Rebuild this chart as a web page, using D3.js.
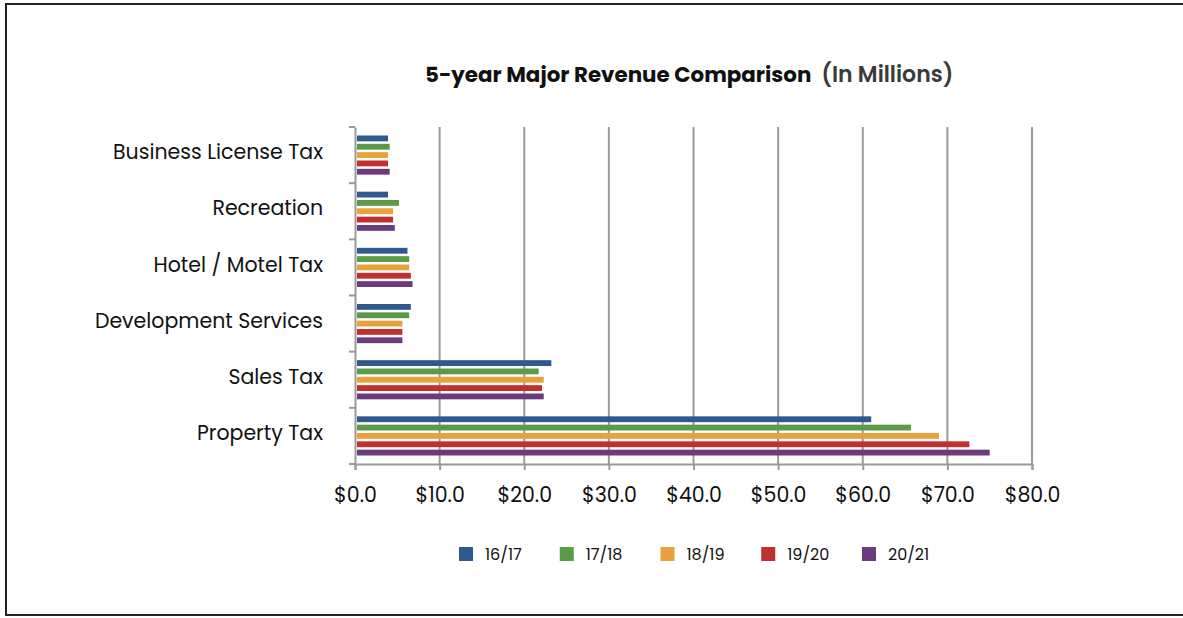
<!DOCTYPE html>
<html>
<head>
<meta charset="utf-8">
<script src="https://cdn.jsdelivr.net/npm/d3@7"></script>
<style>
  html, body { margin: 0; padding: 0; background: #fff; }
  svg { display: block; font-family: Poppins, Inter, 'Open Sans', sans-serif; }
</style>
</head>
<body>
<div id="chart"></div>
<script>
const WIDTH = 1183;
const HEIGHT = 618;
const MARGIN = { top: 127, right: 151, bottom: 154, left: 355 };

// categories, top to bottom
const categories = [
  'Business License Tax',
  'Recreation',
  'Hotel / Motel Tax',
  'Development Services',
  'Sales Tax',
  'Property Tax'
];
const years = ['16/17', '17/18', '18/19', '19/20', '20/21'];
const colors = ['#2e5a8e', '#5b9a48', '#e9a23b', '#c0302f', '#6c3b7b'];

// values in millions, one array per year (same order as categories)
const v1617 = [3.9, 3.9, 6.2, 6.6, 23.2, 61.0];
const v1718 = [4.1, 5.2, 6.4, 6.4, 21.7, 65.7];
const v1819 = [3.9, 4.5, 6.4, 5.6, 22.3, 69.0];
const v1920 = [3.9, 4.5, 6.6, 5.6, 22.1, 72.6];
const v2021 = [4.1, 4.7, 6.8, 5.6, 22.3, 75.0];
const series = [v1617, v1718, v1819, v1920, v2021];

const xTicks = [0, 10, 20, 30, 40, 50, 60, 70, 80];

const innerW = WIDTH - MARGIN.left - MARGIN.right;
const innerH = HEIGHT - MARGIN.top - MARGIN.bottom;

const svg = d3
  .select('#chart')
  .append('svg')
  .attr('width', WIDTH)
  .attr('height', HEIGHT);

// outer frame
svg
  .append('rect')
  .attr('x', 6)
  .attr('y', 4)
  .attr('width', WIDTH + 20)
  .attr('height', 611)
  .attr('fill', 'none')
  .attr('stroke', '#222')
  .attr('stroke-width', 2);

// title
const title = svg
  .append('text')
  .attr('x', 425)
  .attr('y', 82)
  .style('fill', '#111');
title
  .append('tspan')
  .style('font-weight', 700)
  .style('font-size', '21.4px')
  .text('5-year Major Revenue Comparison');
title
  .append('tspan')
  .attr('dx', 10)
  .style('font-weight', 600)
  .style('font-size', '22px')
  .style('fill', '#3a3a3a')
  .text('(In Millions)');

const g = svg
  .append('g')
  .attr('transform', 'translate(' + MARGIN.left + ',' + MARGIN.top + ')');

const x = d3.scaleLinear().domain([0, 80]).range([0, innerW]);
const y = d3.scaleBand().domain(categories).range([0, innerH]);
const ySub = d3
  .scaleBand()
  .domain(years)
  .range([6, y.bandwidth() - 6])
  .padding(0.3);

// vertical gridlines
g.selectAll('line.grid')
  .data(xTicks.slice(1))
  .join('line')
  .attr('class', 'grid')
  .attr('x1', (d) => x(d))
  .attr('x2', (d) => x(d))
  .attr('y1', 0)
  .attr('y2', innerH)
  .attr('stroke', '#9a9a9a')
  .attr('stroke-width', 2);

// bars
categories.forEach((cat, ci) => {
  g.append('g')
    .selectAll('rect')
    .data(years)
    .join('rect')
    .attr('x', 2)
    .attr('y', (d) => y(cat) + ySub(d))
    .attr('width', (d, i) => x(series[i][ci]) - 2)
    .attr('height', ySub.bandwidth())
    .attr('fill', (d, i) => colors[i]);
});

// x axis
const xAxis = g
  .append('g')
  .attr('class', 'x axis')
  .attr('transform', 'translate(0,' + innerH + ')')
  .call(
    d3
      .axisBottom(x)
      .tickValues(xTicks)
      .tickSize(6)
      .tickPadding(17)
      .tickFormat((d) => '$' + d.toFixed(1))
  );
xAxis.select('.domain').attr('stroke', '#9a9a9a').attr('stroke-width', 2);
xAxis.selectAll('.tick line').attr('stroke', '#9a9a9a').attr('stroke-width', 2);
xAxis
  .selectAll('.tick text')
  .style('font-size', '20.5px')
  .style('font-family', 'Poppins, Inter, sans-serif')
  .attr('fill', '#111');

// y axis
const yAxis = g
  .append('g')
  .attr('class', 'y axis')
  .call(d3.axisLeft(y).tickSize(0).tickPadding(32));
yAxis.select('.domain').attr('stroke', '#9a9a9a').attr('stroke-width', 2);
yAxis.selectAll('.tick line').remove();
yAxis
  .selectAll('.tick text')
  .attr('dy', '0.2em')
  .style('font-size', '20.5px')
  .style('font-family', 'Poppins, Inter, sans-serif')
  .attr('fill', '#111');

// category separator ticks
g.selectAll('line.ytick')
  .data(d3.range(categories.length + 1))
  .join('line')
  .attr('class', 'ytick')
  .attr('x1', -6)
  .attr('x2', 0)
  .attr('y1', (d) => d * y.step())
  .attr('y2', (d) => d * y.step())
  .attr('stroke', '#9a9a9a')
  .attr('stroke-width', 2);

// legend
const legendX = d3.scalePoint().domain(years).range([459, 862]);
const legend = svg
  .append('g')
  .selectAll('g')
  .data(years)
  .join('g')
  .attr('transform', (d) => 'translate(' + legendX(d) + ',547)');
legend
  .append('rect')
  .attr('width', 14)
  .attr('height', 14)
  .attr('fill', (d, i) => colors[i]);
legend
  .append('text')
  .attr('x', 26)
  .attr('y', 13)
  .style('font-size', '16px')
  .attr('fill', '#111')
  .text((d) => d);
</script>
</body>
</html>
